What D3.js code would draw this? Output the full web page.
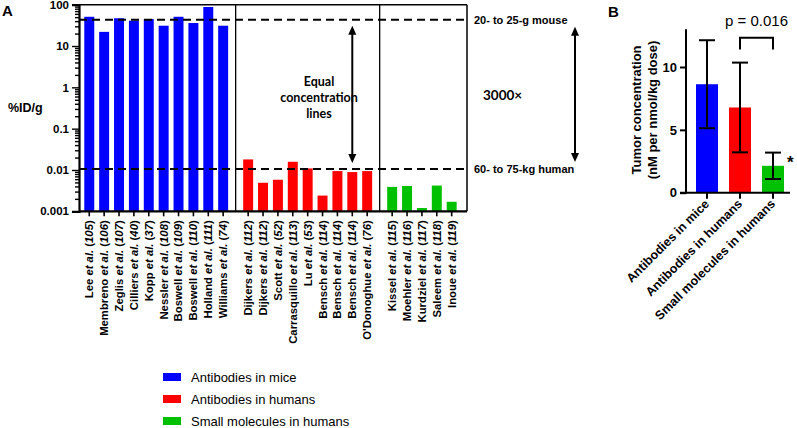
<!DOCTYPE html>
<html><head><meta charset="utf-8">
<script src="https://cdn.jsdelivr.net/npm/d3@7/dist/d3.min.js"></script>
<style>
body{margin:0;background:#fff;}
svg{display:block;font-family:"Liberation Sans",Arial,sans-serif;}
</style></head>
<body><svg id="c" width="797" height="428"></svg>
<script>
// ---------- Panel A data ----------
const blueAuthors = ["Lee","Membreno","Zeglis","Cilliers","Kopp","Nessler","Boswell","Boswell","Holland","Williams"];
const blueRefs    = ["105","106","107","40","37","108","109","110","111","74"];
const blueValues  = [51,22,47,41,45,31,51,36,88,31];
const redAuthors  = ["Dijkers","Dijkers","Scott","Carrasquillo","Lu","Bensch","Bensch","Bensch","O'Donoghue"];
const redRefs     = ["112","112","52","113","53","114","114","114","76"];
const redValues   = [0.018,0.0049,0.0058,0.0158,0.0109,0.0024,0.0094,0.0089,0.0094];
const greenAuthors= ["Kissel","Moehler","Kurdziel","Saleem","Inoue"];
const greenRefs   = ["115","116","117","118","119"];
const greenValues = [0.0039,0.0041,0.0012,0.0042,0.0017];
const logTicks = [0.001,0.01,0.1,1,10,100];
const logTickLabels = ["0.001","0.01","0.1","1","10","100"];
const mouseLine = 43, humanLine = 0.0105;
const legendLabels = ["Antibodies in mice","Antibodies in humans","Small molecules in humans"];
const colors = ["#0000FF","#FF0000","#00C000"];

// ---------- Panel B data ----------
const bCategories = ["Antibodies in mice","Antibodies in humans","Small molecules in humans"];
const bMeans = [8.63,6.78,2.14];
const bErr   = [3.5,3.57,1.05];
const bTicks = [0,5,10];

const svg = d3.select("#c");

// ---------- Panel A ----------
const groups = [
  {a:blueAuthors,r:blueRefs,v:blueValues,c:colors[0]},
  {a:redAuthors,r:redRefs,v:redValues,c:colors[1]},
  {a:greenAuthors,r:greenRefs,v:greenValues,c:colors[2]}
];
const gapUnits = 0.68;
const bars = [];
let k = 0;
groups.forEach((g,gi)=>{
  g.v.forEach((v,i)=>{
    bars.push({author:g.a[i],ref:g.r[i],value:v,color:g.c,pos:k+gi*gapUnits,group:gi});
    k++;
  });
});
const L=79, R=467, T=4.7, B=211.3;
const x = d3.scaleLinear().domain([-0.69, bars[bars.length-1].pos+1.03]).range([L,R]);
const y = d3.scaleLog().domain([0.001,100]).range([B,T]);
const unit = x(1)-x(0);
const bw = unit*0.67;

const gA = svg.append("g");
gA.selectAll("rect.bar").data(bars).join("rect")
  .attr("x",d=>x(d.pos)-bw/2).attr("width",bw)
  .attr("y",d=>y(d.value)).attr("height",d=>B-y(d.value))
  .attr("fill",d=>d.color);

// frame and dividers
gA.append("line").attr("x1",L).attr("x2",R).attr("y1",T).attr("y2",T).attr("stroke","#000").attr("stroke-width",1.5);
gA.append("line").attr("x1",R).attr("x2",R).attr("y1",T).attr("y2",B).attr("stroke","#000").attr("stroke-width",1.5);
const div1 = (bars[9].pos+bars[10].pos)/2, div2 = (bars[18].pos+bars[19].pos)/2;
[div1,div2].forEach(p=>{
  gA.append("line").attr("x1",x(p)).attr("x2",x(p)).attr("y1",T).attr("y2",B).attr("stroke","#000").attr("stroke-width",1.3);
});

// dashed lines
[mouseLine,humanLine].forEach(v=>{
  gA.append("line").attr("x1",L).attr("x2",R).attr("y1",y(v)).attr("y2",y(v))
    .attr("stroke","#000").attr("stroke-width",2).attr("stroke-dasharray","8,5");
});

// y axis
const yAxis = d3.axisLeft(y).tickValues(logTicks).tickFormat((d,i)=>logTickLabels[i]).tickSize(7).tickPadding(3);
const ya = gA.append("g").attr("transform",`translate(${L},0)`).call(yAxis);
const minor=[];
for(let dec=0.001; dec<100; dec*=10){ for(let m=2;m<10;m++) minor.push(+(dec*m).toPrecision(3)); }
gA.append("g").attr("transform",`translate(${L},0)`).call(d3.axisLeft(y).tickValues(minor).tickFormat("").tickSize(4))
  .call(g=>g.select(".domain").remove());
ya.select(".domain").attr("stroke-width",2.2);
ya.selectAll(".tick text").attr("font-size",11.5).attr("font-weight","bold").attr("font-family","Liberation Sans, Arial");
gA.selectAll(".tick line").attr("stroke-width",1.4);

// x axis line + ticks
gA.append("line").attr("x1",L).attr("x2",R).attr("y1",B).attr("y2",B).attr("stroke","#000").attr("stroke-width",2.2);
gA.selectAll("line.xt").data(bars).join("line").attr("class","xt")
  .attr("x1",d=>x(d.pos)).attr("x2",d=>x(d.pos)).attr("y1",B).attr("y2",B+5).attr("stroke","#000").attr("stroke-width",1.6);
const lab = gA.selectAll("text.xl").data(bars).join("text").attr("class","xl")
  .attr("transform",d=>`translate(${x(d.pos)},${B+9}) rotate(-90)`)
  .attr("text-anchor","end").attr("dy","0.35em")
  .attr("font-size",11.3).attr("font-weight","bold");
lab.append("tspan").text(d=>d.author+" ");
lab.append("tspan").attr("font-style","italic").text("et al.");
lab.append("tspan").text(" (");
lab.append("tspan").attr("font-style","italic").text(d=>d.ref);
lab.append("tspan").text(")");

// y label and panel letter
svg.append("text").attr("x",8).attr("y",112).attr("font-size",12.5).attr("font-weight","bold").text("%ID/g");
svg.append("text").attr("x",2).attr("y",16).attr("font-size",15).attr("font-weight","bold").text("A");

// right annotations
svg.append("text").attr("x",R+7).attr("y",y(mouseLine)+4).attr("font-size",11).attr("font-weight","bold").text("20- to 25-g mouse");
svg.append("text").attr("x",R+7).attr("y",y(humanLine)+4).attr("font-size",11).attr("font-weight","bold").text("60- to 75-kg human");
svg.append("text").attr("x",483).attr("y",100).attr("font-size",13.5).attr("font-weight","bold").attr("font-family","Lato").text("3000×");

function dblArrow(px, y1, y2){
  const g = svg.append("g");
  g.append("line").attr("x1",px).attr("x2",px).attr("y1",y1+6).attr("y2",y2-6).attr("stroke","#000").attr("stroke-width",2);
  g.append("path").attr("d",`M${px},${y1} L${px-4},${y1+9} L${px+4},${y1+9} Z`).attr("fill","#000");
  g.append("path").attr("d",`M${px},${y2} L${px-4},${y2-9} L${px+4},${y2-9} Z`).attr("fill","#000");
}
dblArrow(x(bars[17].pos), y(mouseLine)+6, y(humanLine)-6);
dblArrow(575, y(mouseLine)+7, y(humanLine)-7);

const eq = svg.append("text").attr("text-anchor","middle").attr("font-size",12.5).attr("font-weight","bold").attr("font-family","Lato");
["Equal","concentration","lines"].forEach((t,i)=>{
  eq.append("tspan").attr("x",319).attr("y",86+i*16).text(t);
});

// legend
const lg = svg.append("g");
legendLabels.forEach((t,i)=>{
  lg.append("rect").attr("x",163).attr("y",373+i*22).attr("width",18).attr("height",8).attr("fill",colors[i]);
  lg.append("text").attr("x",191).attr("y",381.5+i*22).attr("font-size",13).text(t);
});

// ---------- Panel B ----------
const A0 = 686, bTop = 29.3, bBot = 192.7;
const yb = d3.scaleLinear().domain([0,13]).range([bBot,bTop]);
const xb = d3.scaleBand().domain(bCategories).range([A0+10,A0+98]).paddingInner(1/3).paddingOuter(0);
const gB = svg.append("g");
gB.selectAll("rect").data(bCategories).join("rect")
  .attr("x",d=>xb(d)).attr("width",xb.bandwidth())
  .attr("y",(d,i)=>yb(bMeans[i])).attr("height",(d,i)=>bBot-yb(bMeans[i]))
  .attr("fill",(d,i)=>colors[i]);
bCategories.forEach((c,i)=>{
  const cx = xb(c)+xb.bandwidth()/2, hw=8;
  const t = yb(bMeans[i]+bErr[i]), b = yb(bMeans[i]-bErr[i]);
  gB.append("line").attr("x1",cx).attr("x2",cx).attr("y1",t).attr("y2",b).attr("stroke","#000").attr("stroke-width",2);
  gB.append("line").attr("x1",cx-hw).attr("x2",cx+hw).attr("y1",t).attr("y2",t).attr("stroke","#000").attr("stroke-width",2);
  gB.append("line").attr("x1",cx-hw).attr("x2",cx+hw).attr("y1",b).attr("y2",b).attr("stroke","#000").attr("stroke-width",2);
});
const yAxB = gB.append("g").attr("transform",`translate(${A0},0)`)
  .call(d3.axisLeft(yb).tickValues(bTicks).tickSize(6).tickPadding(3));
yAxB.select(".domain").attr("stroke-width",2).attr("d",`M-6,${bBot}H0V${bTop}`);
yAxB.selectAll(".tick line").attr("stroke-width",2);
yAxB.selectAll(".tick text").attr("font-size",13).attr("font-weight","bold").attr("font-family","Liberation Sans, Arial");
gB.append("line").attr("x1",A0).attr("x2",A0+104).attr("y1",bBot).attr("y2",bBot).attr("stroke","#000").attr("stroke-width",2);
bCategories.forEach(c=>{
  const cx = xb(c)+xb.bandwidth()/2;
  gB.append("line").attr("x1",cx).attr("x2",cx).attr("y1",bBot).attr("y2",bBot+6).attr("stroke","#000").attr("stroke-width",2);
  gB.append("text").attr("transform",`translate(${cx+3},${bBot+12}) rotate(-45)`)
    .attr("text-anchor","end").attr("font-size",12.5).attr("font-weight","bold").text(c);
});
// bracket
const c1 = xb(bCategories[1])+xb.bandwidth()/2, c2 = xb(bCategories[2])+xb.bandwidth()/2;
gB.append("path").attr("d",`M${c1},49.5 V37.7 H${c2} V49.5`).attr("fill","none").attr("stroke","#000").attr("stroke-width",2);
gB.append("text").attr("x",(c1+c2)/2).attr("y",26).attr("text-anchor","middle").attr("font-size",15).text("p = 0.016");
gB.append("text").attr("x",c2+14).attr("y",yb(bMeans[2]+bErr[2])+15).attr("font-size",17).attr("font-weight","bold").text("*");
// y label
const yl = gB.append("text").attr("transform",`translate(641,110) rotate(-90)`).attr("text-anchor","middle")
  .attr("font-size",13).attr("font-weight","bold");
yl.append("tspan").attr("x",0).attr("y",0).text("Tumor concentration");
yl.append("tspan").attr("x",0).attr("y",16).text("(nM per nmol/kg dose)");
svg.append("text").attr("x",608).attr("y",17).attr("font-size",15).attr("font-weight","bold").text("B");
</script></body></html>
